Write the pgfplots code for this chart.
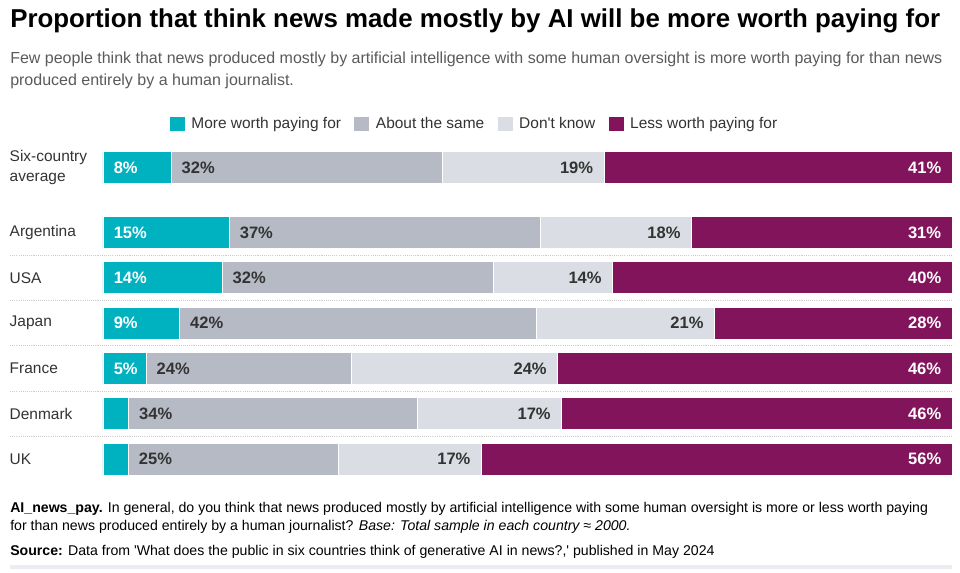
\documentclass[border=0pt]{standalone}
\usepackage{fontspec}
\setmainfont{Liberation Sans}
\usepackage{pgfplots}
\usepackage{pgfplotstable}
\pgfplotsset{compat=1.18}
\definecolor{cteal}{HTML}{00B1BF}
\definecolor{cgray}{HTML}{B5BAC5}
\definecolor{clight}{HTML}{DADEE4}
\definecolor{cpurple}{HTML}{82145C}
\definecolor{ctext}{HTML}{333333}
\definecolor{csub}{HTML}{5A5A5A}
\definecolor{cdot}{HTML}{CCCCCC}
\definecolor{cband}{HTML}{ECECF3}

\pgfplotstableread{
y x lab
6.435 8 {8\%}
5 14.85 {15\%}
4 14 {14\%}
3 9 {9\%}
2 5.05 {5\%}
1 3 {}
0 2.97 {}
}\tmore
\pgfplotstableread{
y x lab
6.435 32 {32\%}
5 36.63 {37\%}
4 32 {32\%}
3 42 {42\%}
2 24.24 {24\%}
1 34 {34\%}
0 24.75 {25\%}
}\tsame
\pgfplotstableread{
y x lab
6.435 19 {19\%}
5 17.82 {18\%}
4 14 {14\%}
3 21 {21\%}
2 24.24 {24\%}
1 17 {17\%}
0 16.83 {17\%}
}\tdk
\pgfplotstableread{
y x lab
6.435 41 {41\%}
5 30.69 {31\%}
4 40 {40\%}
3 28 {28\%}
2 46.46 {46\%}
1 46 {46\%}
0 55.45 {56\%}
}\tless

\begin{document}
\begin{tikzpicture}[x=1pt,y=1pt]
\path[use as bounding box] (0,0) rectangle (720,429);
\node[anchor=base west, inner sep=0, font=\fontsize{19.4}{23}\selectfont\bfseries] at (7.5,408) {Proportion that think news made mostly by AI will be more worth paying for};
\node[anchor=base west, inner sep=0, text=csub, font=\fontsize{12}{16.5}\selectfont, align=left] at (7.5,364.5) {Few people think that news produced mostly by artificial intelligence with some human oversight is more worth paying for than news\\produced entirely by a human journalist.};
\node[anchor=base west, inner sep=0, text=black, font=\fontsize{10.6}{13.5}\selectfont, align=left] at (7.5,31) {\textbf{AI\_news\_pay.} In general, do you think that news produced mostly by artificial intelligence with some human oversight is more or less worth paying\\for than news produced entirely by a human journalist? \textit{Base: Total sample in each country ≈ 2000.}};
\node[anchor=base west, inner sep=0, text=black, font=\fontsize{10.6}{13.5}\selectfont] at (7.5,12.5) {\textbf{Source:} Data from \textquotesingle What does the public in six countries think of generative AI in news?,\textquotesingle{} published in May 2024};
\fill[cband] (7.5,2.5) rectangle (714,5);
\begin{axis}[
  at={(77.25pt,67.76pt)}, anchor=south west,
  scale only axis, width=636.75pt, height=252.6pt,
  xbar stacked, bar width=24pt,
  xmin=0, xmax=100, ymin=-0.5, ymax=6.935,
  axis line style={draw=none},
  xtick=\empty,
  ytick={0,1,2,3,4,5,6.435},
  yticklabels={UK,Denmark,France,Japan,USA,Argentina,{Six-country\\average}},
  major tick length=0pt,
  yticklabel style={text width=69.75pt, align=left, anchor=east, inner sep=0pt, font=\fontsize{11.6}{15}\selectfont, text=ctext},
  clip=false,
  point meta=explicit symbolic,
  nodes near coords,
  visualization depends on={\thisrow{x} \as \rawx},
  legend style={at={(axis description cs:0.438,1.062)}, anchor=center, draw=none, fill=none, legend columns=4, font=\fontsize{11.6}{13}\selectfont, text=ctext, /tikz/every odd column/.append style={column sep=3pt}, /tikz/every even column/.append style={column sep=8pt}},
  legend image code/.code={\path[#1,draw=none] (0pt,-5.6pt) rectangle (11.2pt,5.6pt);},
]
\foreach \yy in {0.5,1.5,2.5,3.5,4.5} {
  \edef\tmp{\noexpand\draw[cdot, line width=0.6pt, dash pattern=on 0.8pt off 0.8pt] (axis cs:-10.95,\yy) -- (axis cs:100,\yy);}
  \tmp
}
\addplot[fill=cteal, draw=white, line width=0.5pt, nodes near coords style={anchor=west, xshift={4.5pt-\rawx*3.18375pt}, font=\fontsize{12.4}{14}\selectfont\bfseries, text=white}] table[x=x, y=y, meta=lab] {\tmore};
\addplot[fill=cgray, draw=white, line width=0.5pt, nodes near coords style={anchor=west, xshift={4.5pt-\rawx*3.18375pt}, font=\fontsize{12.4}{14}\selectfont\bfseries, text=ctext}] table[x=x, y=y, meta=lab] {\tsame};
\addplot[fill=clight, draw=white, line width=0.5pt, nodes near coords style={anchor=east, xshift={\rawx*3.18375pt-4.5pt}, font=\fontsize{12.4}{14}\selectfont\bfseries, text=ctext}] table[x=x, y=y, meta=lab] {\tdk};
\addplot[fill=cpurple, draw=white, line width=0.5pt, nodes near coords style={anchor=east, xshift={\rawx*3.18375pt-4.5pt}, font=\fontsize{12.4}{14}\selectfont\bfseries, text=white}] table[x=x, y=y, meta=lab] {\tless};
\legend{More worth paying for, About the same, Don\textquotesingle t know, Less worth paying for}
\end{axis}
\end{tikzpicture}
\end{document}
